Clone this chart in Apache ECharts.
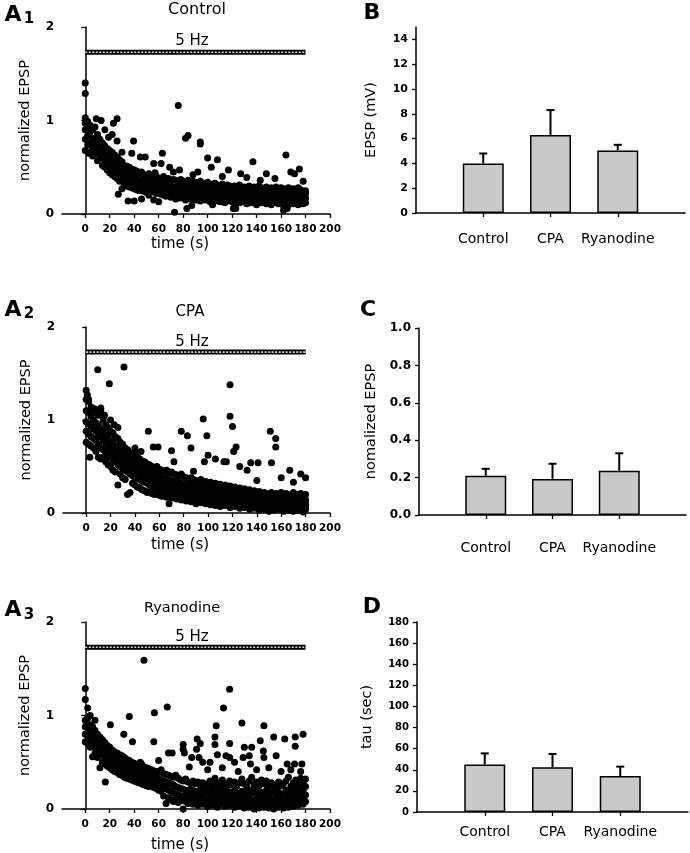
<!DOCTYPE html>
<html>
<head>
<meta charset="utf-8">
<script src="https://cdn.jsdelivr.net/npm/echarts@6/dist/echarts.min.js"></script>
<style>
  html, body { margin: 0; padding: 0; background: #fff; }
  #main { width: 690px; height: 853px; }
</style>
</head>
<body>
<div id="main"></div>
<script>
// ---- data ----
const timeTicks = [0, 20, 40, 60, 80, 100, 120, 140, 160, 180, 200];
const stimSpan = [0, 180];
const stimLevel = 1.73;

// rows: [time (s), normalized EPSP values at that time ...]
const controlRows = [
  [0, 0.68, 0.8, 0.9, 0.97, 1.03], [2, 0.74, 0.84, 0.92, 0.99], [4, 0.65, 0.76, 0.88, 0.95],
  [6, 0.62, 0.72, 0.81, 0.9], [8, 0.66, 0.7, 0.79, 0.93], [10, 0.57, 0.65, 0.74, 0.85],
  [12, 0.6, 0.63, 0.71, 0.8], [14, 0.52, 0.61, 0.68, 0.76], [16, 0.5, 0.57, 0.66, 0.73],
  [18, 0.47, 0.56, 0.62, 0.7], [20, 0.44, 0.53, 0.6, 0.68], [22, 0.42, 0.49, 0.58, 0.66],
  [24, 0.4, 0.47, 0.55, 0.63], [26, 0.38, 0.46, 0.52, 0.61], [28, 0.35, 0.43, 0.5, 0.58],
  [30, 0.27, 0.4, 0.47, 0.56], [32, 0.33, 0.38, 0.45, 0.52], [34, 0.3, 0.37, 0.44, 0.51],
  [36, 0.29, 0.35, 0.42, 0.5], [38, 0.28, 0.34, 0.4, 0.48], [40, 0.27, 0.33, 0.41, 0.47],
  [42, 0.26, 0.32, 0.38, 0.46], [44, 0.25, 0.31, 0.37, 0.44], [46, 0.27, 0.3, 0.36, 0.45],
  [48, 0.24, 0.3, 0.35, 0.42], [50, 0.23, 0.29, 0.36, 0.41], [52, 0.2, 0.28, 0.34, 0.43],
  [54, 0.24, 0.29, 0.33, 0.4], [56, 0.15, 0.27, 0.32, 0.39], [58, 0.22, 0.26, 0.33, 0.41],
  [60, 0.13, 0.26, 0.31, 0.38], [62, 0.21, 0.25, 0.3, 0.37], [64, 0.2, 0.27, 0.31, 0.4],
  [66, 0.19, 0.24, 0.3, 0.36], [68, 0.21, 0.25, 0.29, 0.38], [70, 0.18, 0.23, 0.3, 0.35],
  [72, 0.2, 0.26, 0.28, 0.37], [74, 0.16, 0.24, 0.29, 0.36], [76, 0.19, 0.23, 0.31, 0.34],
  [78, 0.17, 0.22, 0.28, 0.37], [80, 0.18, 0.25, 0.3, 0.35], [82, 0.15, 0.21, 0.27, 0.34],
  [84, 0.19, 0.24, 0.29, 0.36], [86, 0.16, 0.22, 0.28, 0.33], [88, 0.17, 0.23, 0.27, 0.35],
  [90, 0.15, 0.21, 0.29, 0.34], [92, 0.18, 0.22, 0.26, 0.32], [94, 0.14, 0.2, 0.27, 0.35],
  [96, 0.16, 0.23, 0.28, 0.33], [98, 0.15, 0.21, 0.26, 0.31], [100, 0.17, 0.22, 0.27, 0.34],
  [102, 0.13, 0.2, 0.25, 0.32], [104, 0.16, 0.21, 0.28, 0.3], [106, 0.14, 0.19, 0.25, 0.33],
  [108, 0.15, 0.22, 0.26, 0.31], [110, 0.13, 0.2, 0.24, 0.3], [112, 0.16, 0.19, 0.27, 0.32],
  [114, 0.12, 0.21, 0.25, 0.29], [116, 0.14, 0.18, 0.23, 0.31], [118, 0.15, 0.2, 0.26, 0.3],
  [120, 0.13, 0.19, 0.24, 0.28], [122, 0.11, 0.18, 0.22, 0.3], [124, 0.14, 0.2, 0.25, 0.29],
  [126, 0.12, 0.17, 0.23, 0.31], [128, 0.15, 0.19, 0.24, 0.28], [130, 0.13, 0.18, 0.22, 0.29],
  [132, 0.11, 0.2, 0.25, 0.27], [134, 0.14, 0.17, 0.23, 0.3], [136, 0.12, 0.19, 0.21, 0.28],
  [138, 0.13, 0.18, 0.24, 0.29], [140, 0.1, 0.17, 0.22, 0.27], [142, 0.14, 0.19, 0.23, 0.3],
  [144, 0.12, 0.16, 0.21, 0.28], [146, 0.13, 0.18, 0.24, 0.27], [148, 0.11, 0.17, 0.22, 0.29],
  [150, 0.14, 0.19, 0.23, 0.26], [152, 0.1, 0.16, 0.21, 0.28], [154, 0.13, 0.18, 0.24, 0.27],
  [156, 0.12, 0.17, 0.2, 0.29], [158, 0.11, 0.15, 0.22, 0.26], [160, 0.13, 0.18, 0.23, 0.28],
  [162, 0.09, 0.16, 0.21, 0.27], [164, 0.12, 0.17, 0.22, 0.25], [166, 0.1, 0.15, 0.2, 0.28],
  [168, 0.13, 0.18, 0.23, 0.26], [170, 0.11, 0.16, 0.21, 0.27], [172, 0.12, 0.17, 0.2, 0.25],
  [174, 0.1, 0.15, 0.22, 0.28], [176, 0.13, 0.18, 0.21, 0.26], [178, 0.11, 0.16, 0.2, 0.24],
  [180, 0.12, 0.17, 0.22, 0.25]
];
const controlOutliers = [
  [0, 1.4], [0, 1.29], [76, 1.16], [82, 0.81], [84, 0.84], [94, 0.77], [94, 0.75], [26, 1.02],
  [9, 1.02], [13, 1.0], [23, 0.97], [22, 0.85], [26, 0.78], [39.5, 0.78], [38, 0.65], [45, 0.61],
  [49, 0.61], [56, 0.54], [63, 0.65], [62, 0.54], [69, 0.5], [77, 0.47], [100, 0.6], [103, 0.5],
  [108, 0.58], [117, 0.47], [127, 0.43], [137, 0.56], [148, 0.43], [164, 0.63], [175, 0.48],
  [168, 0.45], [171, 0.43], [73, 0.02], [83, 0.06], [121, 0.06], [123, 0.06], [87, 0.09],
  [162, 0.04], [165, 0.06], [35, 0.14], [27, 0.21], [40, 0.14], [46, 0.16], [104, 0.1],
  [3, 0.65], [5, 0.67], [16, 0.9], [19, 0.82], [30, 0.66], [57, 0.44], [88, 0.42], [112, 0.4],
  [132, 0.39], [155, 0.38], [143, 0.36], [178, 0.35], [92, 0.45], [72, 0.45]
];

const cpaRows = [
  [0, 0.76, 0.88, 0.98, 1.1, 1.22], [2, 0.74, 0.85, 0.96, 1.08, 1.2], [4, 0.72, 0.82, 0.93, 1.04, 1.14],
  [6, 0.7, 0.8, 0.9, 1.0, 1.1], [8, 0.66, 0.78, 0.88, 0.97, 1.08], [10, 0.6, 0.74, 0.85, 0.95, 1.05],
  [12, 0.58, 0.7, 0.82, 0.9, 1.1], [14, 0.6, 0.68, 0.78, 0.88, 1.0], [16, 0.55, 0.65, 0.75, 0.84, 0.95],
  [18, 0.52, 0.62, 0.72, 0.82, 0.92], [20, 0.5, 0.6, 0.69, 0.78, 0.88], [22, 0.46, 0.57, 0.66, 0.75, 0.86],
  [24, 0.44, 0.55, 0.63, 0.72, 0.82], [26, 0.3, 0.52, 0.61, 0.7, 0.8], [28, 0.42, 0.5, 0.58, 0.67, 0.76],
  [30, 0.38, 0.48, 0.56, 0.65, 0.74], [32, 0.36, 0.46, 0.54, 0.62, 0.7], [34, 0.2, 0.44, 0.52, 0.6, 0.68],
  [36, 0.22, 0.42, 0.5, 0.58, 0.65], [38, 0.32, 0.4, 0.48, 0.56, 0.63], [40, 0.3, 0.38, 0.46, 0.54, 0.66],
  [42, 0.28, 0.37, 0.45, 0.52, 0.6], [44, 0.27, 0.36, 0.43, 0.5, 0.58], [46, 0.25, 0.34, 0.42, 0.49, 0.56],
  [48, 0.24, 0.33, 0.4, 0.47, 0.55], [50, 0.22, 0.32, 0.39, 0.46, 0.53], [52, 0.23, 0.3, 0.38, 0.44, 0.52],
  [54, 0.21, 0.29, 0.36, 0.43, 0.5], [56, 0.2, 0.28, 0.35, 0.42, 0.49], [58, 0.22, 0.27, 0.34, 0.41, 0.5],
  [60, 0.19, 0.26, 0.33, 0.4, 0.47], [62, 0.18, 0.26, 0.32, 0.39, 0.46], [64, 0.2, 0.25, 0.31, 0.38, 0.45],
  [66, 0.17, 0.24, 0.3, 0.37, 0.46], [68, 0.1, 0.23, 0.3, 0.36, 0.43], [70, 0.16, 0.22, 0.29, 0.35, 0.44],
  [72, 0.18, 0.23, 0.28, 0.34, 0.42], [74, 0.15, 0.21, 0.27, 0.35, 0.41], [76, 0.16, 0.2, 0.27, 0.33, 0.4],
  [78, 0.14, 0.21, 0.26, 0.32, 0.42], [80, 0.15, 0.2, 0.25, 0.31, 0.39], [82, 0.13, 0.19, 0.25, 0.3, 0.38],
  [84, 0.14, 0.2, 0.24, 0.31, 0.37], [86, 0.12, 0.18, 0.23, 0.29, 0.38], [88, 0.13, 0.19, 0.24, 0.3, 0.36],
  [90, 0.1, 0.17, 0.22, 0.28, 0.35], [92, 0.12, 0.18, 0.23, 0.29, 0.34], [94, 0.11, 0.16, 0.22, 0.27, 0.36],
  [96, 0.13, 0.17, 0.21, 0.28, 0.33], [98, 0.1, 0.15, 0.2, 0.26, 0.34], [100, 0.12, 0.16, 0.21, 0.27, 0.32],
  [102, 0.09, 0.15, 0.2, 0.25, 0.33], [104, 0.11, 0.16, 0.19, 0.26, 0.31], [106, 0.08, 0.14, 0.2, 0.24, 0.32],
  [108, 0.1, 0.15, 0.19, 0.25, 0.3], [110, 0.07, 0.13, 0.18, 0.24, 0.31], [112, 0.09, 0.14, 0.19, 0.23, 0.29],
  [114, 0.08, 0.12, 0.17, 0.24, 0.3], [116, 0.1, 0.15, 0.18, 0.22, 0.28], [118, 0.06, 0.12, 0.17, 0.23, 0.29],
  [120, 0.08, 0.13, 0.16, 0.21, 0.27], [122, 0.07, 0.11, 0.17, 0.22, 0.28], [124, 0.09, 0.13, 0.15, 0.2, 0.26],
  [126, 0.05, 0.1, 0.16, 0.21, 0.27], [128, 0.07, 0.12, 0.15, 0.2, 0.25], [130, 0.06, 0.1, 0.14, 0.19, 0.26],
  [132, 0.08, 0.11, 0.16, 0.2, 0.24], [134, 0.04, 0.09, 0.14, 0.19, 0.25], [136, 0.06, 0.11, 0.15, 0.18, 0.23],
  [138, 0.05, 0.1, 0.13, 0.19, 0.24], [140, 0.07, 0.09, 0.14, 0.17, 0.22], [142, 0.03, 0.08, 0.12, 0.18, 0.23],
  [144, 0.05, 0.1, 0.13, 0.17, 0.21], [146, 0.04, 0.08, 0.12, 0.16, 0.22], [148, 0.06, 0.09, 0.14, 0.18, 0.2],
  [150, 0.02, 0.07, 0.11, 0.16, 0.21], [152, 0.05, 0.09, 0.13, 0.17, 0.22], [154, 0.03, 0.08, 0.12, 0.15, 0.2],
  [156, 0.06, 0.1, 0.11, 0.16, 0.21], [158, 0.04, 0.07, 0.12, 0.17, 0.19], [160, 0.05, 0.09, 0.13, 0.15, 0.22],
  [162, 0.02, 0.08, 0.11, 0.16, 0.2], [164, 0.04, 0.07, 0.12, 0.14, 0.21], [166, 0.03, 0.09, 0.1, 0.15, 0.19],
  [168, 0.05, 0.08, 0.13, 0.16, 0.2], [170, 0.02, 0.06, 0.11, 0.14, 0.22], [172, 0.04, 0.08, 0.12, 0.15, 0.19],
  [174, 0.03, 0.07, 0.1, 0.16, 0.2], [176, 0.05, 0.09, 0.12, 0.14, 0.21], [178, 0.01, 0.06, 0.11, 0.15, 0.18],
  [180, 0.04, 0.08, 0.1, 0.14, 0.2]
];
const cpaOutliers = [
  [9.5, 1.54], [31, 1.57], [19, 1.39], [51, 0.88], [55, 0.71], [59, 0.71], [78, 0.88], [83, 0.83],
  [96, 1.01], [99, 0.83], [86, 0.7], [70, 0.67], [118, 1.38], [118, 1.04], [120, 0.93], [123, 0.71],
  [121, 0.66], [100, 0.62], [106, 0.58], [97, 0.55], [113, 0.55], [115, 0.55], [135, 0.54], [141, 0.54],
  [126, 0.5], [132, 0.46], [151, 0.88], [155.5, 0.8], [155.5, 0.71], [152, 0.54], [167, 0.46],
  [176, 0.42], [180, 0.38], [88, 0.45], [72, 0.55], [0, 1.32], [1, 1.27], [2, 1.22], [7, 1.12],
  [12, 1.13], [15, 1.05], [20, 1.0], [23, 0.95], [26, 0.92], [17, 0.6], [3, 0.6], [45, 0.66],
  [60, 0.45], [40, 0.7], [140, 0.35], [160, 0.38], [170, 0.33]
];

const ryanRows = [
  [0, 0.72, 0.8, 0.88, 0.95], [2, 0.7, 0.78, 0.86, 0.97], [4, 0.66, 0.74, 0.82, 0.9],
  [6, 0.56, 0.7, 0.78, 0.88], [8, 0.6, 0.66, 0.74, 0.84], [10, 0.55, 0.63, 0.71, 0.8],
  [12, 0.44, 0.6, 0.68, 0.77], [14, 0.5, 0.58, 0.65, 0.74], [16, 0.48, 0.55, 0.62, 0.71],
  [18, 0.46, 0.53, 0.6, 0.68], [20, 0.44, 0.51, 0.58, 0.66], [22, 0.42, 0.49, 0.56, 0.63],
  [24, 0.4, 0.47, 0.54, 0.61], [26, 0.39, 0.46, 0.52, 0.6], [28, 0.37, 0.44, 0.5, 0.58],
  [30, 0.36, 0.42, 0.49, 0.57], [32, 0.34, 0.41, 0.47, 0.55], [34, 0.33, 0.4, 0.46, 0.53],
  [36, 0.32, 0.38, 0.45, 0.52], [38, 0.31, 0.37, 0.43, 0.5], [40, 0.3, 0.36, 0.42, 0.49],
  [42, 0.29, 0.35, 0.41, 0.47], [44, 0.28, 0.34, 0.4, 0.46], [46, 0.27, 0.33, 0.39, 0.48],
  [48, 0.26, 0.32, 0.38, 0.45], [50, 0.25, 0.31, 0.37, 0.44], [52, 0.24, 0.3, 0.36, 0.43],
  [54, 0.25, 0.29, 0.35, 0.42], [56, 0.23, 0.28, 0.34, 0.41], [58, 0.22, 0.28, 0.33, 0.4],
  [60, 0.2, 0.27, 0.32, 0.39], [62, 0.19, 0.26, 0.31, 0.42], [64, 0.14, 0.25, 0.3, 0.38],
  [66, 0.06, 0.22, 0.29, 0.37], [68, 0.12, 0.2, 0.28, 0.36], [70, 0.1, 0.19, 0.27, 0.35],
  [72, 0.08, 0.17, 0.26, 0.34], [74, 0.11, 0.16, 0.24, 0.36], [76, 0.07, 0.15, 0.23, 0.33],
  [78, 0.09, 0.14, 0.22, 0.31], [80, 0.0, 0.13, 0.21, 0.3], [82, 0.08, 0.15, 0.2, 0.32],
  [84, 0.06, 0.12, 0.19, 0.29], [86, 0.09, 0.14, 0.21, 0.28], [88, 0.05, 0.13, 0.2, 0.3],
  [90, 0.07, 0.12, 0.18, 0.27], [92, 0.04, 0.11, 0.19, 0.29], [94, 0.08, 0.13, 0.2, 0.26],
  [96, 0.05, 0.12, 0.17, 0.28], [98, 0.06, 0.1, 0.18, 0.25], [100, 0.03, 0.11, 0.19, 0.27],
  [102, 0.07, 0.13, 0.2, 0.3], [104, 0.04, 0.1, 0.17, 0.26], [106, 0.06, 0.12, 0.21, 0.33],
  [108, 0.02, 0.11, 0.18, 0.28], [110, 0.05, 0.09, 0.16, 0.25], [112, 0.07, 0.12, 0.2, 0.31],
  [114, 0.03, 0.1, 0.17, 0.27], [116, 0.06, 0.13, 0.19, 0.24], [118, 0.04, 0.09, 0.18, 0.3],
  [120, 0.05, 0.11, 0.16, 0.26], [122, 0.02, 0.1, 0.2, 0.29], [124, 0.06, 0.12, 0.17, 0.25],
  [126, 0.03, 0.08, 0.15, 0.28], [128, 0.05, 0.11, 0.19, 0.32], [130, 0.01, 0.09, 0.16, 0.27],
  [132, 0.04, 0.12, 0.18, 0.24], [134, 0.02, 0.08, 0.15, 0.3], [136, 0.05, 0.1, 0.2, 0.34],
  [138, 0.0, 0.07, 0.17, 0.26], [140, 0.03, 0.11, 0.19, 0.29], [142, 0.01, 0.08, 0.14, 0.25],
  [144, 0.04, 0.1, 0.18, 0.31], [146, 0.02, 0.07, 0.16, 0.27], [148, 0.05, 0.12, 0.2, 0.3],
  [150, 0.01, 0.09, 0.15, 0.24], [152, 0.03, 0.08, 0.17, 0.28], [154, 0.0, 0.1, 0.19, 0.26],
  [156, 0.04, 0.07, 0.14, 0.23], [158, 0.02, 0.09, 0.18, 0.29], [160, 0.03, 0.11, 0.16, 0.25],
  [162, 0.01, 0.06, 0.13, 0.27], [164, 0.04, 0.1, 0.2, 0.3], [166, 0.02, 0.08, 0.15, 0.34],
  [168, 0.05, 0.12, 0.18, 0.24], [170, 0.03, 0.09, 0.17, 0.28], [172, 0.06, 0.13, 0.21, 0.31],
  [174, 0.04, 0.11, 0.19, 0.26], [176, 0.07, 0.14, 0.22, 0.33], [178, 0.05, 0.12, 0.2, 0.29],
  [180, 0.08, 0.15, 0.24, 0.32]
];
const ryanOutliers = [
  [0, 1.29], [0, 1.17], [2, 1.08], [48, 1.59], [56.5, 1.03], [67, 1.09], [36, 0.99], [20.5, 0.9],
  [31.5, 0.8], [38.6, 0.72], [56, 0.72], [16.4, 0.29], [113, 1.08], [118, 1.28], [128, 0.92],
  [146, 0.89], [107, 0.89], [154, 0.77], [163, 0.75], [171.6, 0.77], [178, 0.8], [171.6, 0.67],
  [91.4, 0.75], [106, 0.77], [80, 0.69], [80, 0.64], [81, 0.6], [94, 0.7], [91, 0.64], [106, 0.69],
  [118, 0.7], [130, 0.66], [136, 0.66], [143, 0.73], [145.5, 0.62], [129, 0.55], [134, 0.57],
  [146, 0.55], [156, 0.57], [165, 0.48], [171, 0.48], [177, 0.48], [68, 0.6], [71, 0.6], [93, 0.55],
  [96, 0.5], [87, 0.55], [108, 0.58], [115, 0.57], [118, 0.55], [4, 1.0], [8, 0.95], [1, 0.94],
  [12, 0.7], [25, 0.55], [45, 0.5], [60, 0.52], [85, 0.45], [100, 0.42], [112, 0.44], [125, 0.4],
  [140, 0.42], [150, 0.44], [160, 0.4], [168, 0.42], [176, 0.4], [135, 0.48], [122, 0.5], [102, 0.5]
];

// bar panels: mean and upward SEM
const groups = ['Control', 'CPA', 'Ryanodine'];
const groupPos = [1, 2, 3];
const epspMean = [4.0, 6.3, 5.05];
const epspErr = [0.8, 2.0, 0.45];
const normMean = [0.21, 0.193, 0.237];
const normErr = [0.037, 0.081, 0.093];
const tauMean = [45, 42.5, 34];
const tauErr = [10.5, 12.5, 9];
const epspTicks = [0, 2, 4, 6, 8, 10, 12, 14];

// ---- chart ----
const FONT = 'DejaVu Sans';
const chart = echarts.init(document.getElementById('main'), null, { renderer: 'canvas' });

function rowsToPoints(rows) {
  const pts = [];
  rows.forEach(r => {
    for (let i = 1; i < r.length; i++) pts.push([r[0], r[i]]);
  });
  return pts;
}

const scatterGrids = [
  { left: 62, top: 27, width: 268, height: 187 },
  { left: 63, top: 327, width: 267, height: 186 },
  { left: 62, top: 622, width: 268, height: 187 }
];
const barGrids = [
  { left: 416, top: 27, width: 269, height: 186 },
  { left: 419, top: 328, width: 267, height: 187 },
  { left: 417, top: 622, width: 271, height: 190 }
];
const grids = scatterGrids.concat(barGrids).map(g =>
  Object.assign({ containLabel: false, outerBoundsMode: 'none' }, g));

const axisLineStyle = { color: '#000', width: 1.5 };
const tickStyle = { color: '#000', width: 1.3 };

function timeAxis(gi) {
  return {
    gridIndex: gi, type: 'value', min: -19, max: 200,
    axisLine: { show: true, onZero: false, lineStyle: axisLineStyle },
    axisTick: { show: true, length: 4, customValues: timeTicks, lineStyle: tickStyle },
    axisLabel: {
      customValues: timeTicks, color: '#000', fontFamily: FONT, fontWeight: 'bold',
      fontSize: 10.5, margin: 10, hideOverlap: false, showMaxLabel: true
    },
    splitLine: { show: false }
  };
}
function normAxis(gi, name) {
  return {
    gridIndex: gi, type: 'value', min: 0, max: 2, interval: 1,
    axisLine: { show: true, lineStyle: axisLineStyle },
    axisTick: { show: true, length: 4, lineStyle: tickStyle },
    axisLabel: { color: '#000', fontFamily: FONT, fontWeight: 'bold', fontSize: 12, margin: 8 },
    splitLine: { show: false },
    name: name, nameLocation: 'middle', nameRotate: 90, nameGap: 29,
    nameTextStyle: { color: '#000', fontFamily: FONT, fontSize: 14.5 }
  };
}
function groupAxis(gi, margin) {
  return {
    gridIndex: gi, type: 'value', min: 0, max: 4,
    axisLine: { show: true, onZero: false, lineStyle: axisLineStyle },
    axisTick: { show: true, length: 4, customValues: groupPos, lineStyle: tickStyle },
    axisLabel: {
      customValues: groupPos, color: '#000', fontFamily: FONT, fontSize: 14, margin: margin,
      formatter: v => groups[v - 1]
    },
    splitLine: { show: false }
  };
}
function barValueAxis(gi, opts, name, gap, fs) {
  return Object.assign({
    gridIndex: gi, type: 'value',
    axisLine: { show: true, lineStyle: axisLineStyle },
    axisTick: { show: true, length: 4, lineStyle: tickStyle },
    splitLine: { show: false },
    name: name, nameLocation: 'middle', nameRotate: 90, nameGap: gap,
    nameTextStyle: { color: '#000', fontFamily: FONT, fontSize: 14.5 }
  }, opts, {
    axisLabel: Object.assign({ color: '#000', fontFamily: FONT, fontWeight: 'bold', fontSize: fs, margin: 8 }, opts.axisLabel || {})
  });
}

const xAxes = [timeAxis(0), timeAxis(1), timeAxis(2), groupAxis(3, 19), groupAxis(4, 26), groupAxis(5, 13)];
const yAxes = [
  normAxis(0, 'normalized EPSP'),
  normAxis(1, 'normalized EPSP'),
  normAxis(2, 'normalized EPSP'),
  barValueAxis(3, {
    min: 0, max: 15,
    axisTick: { show: true, length: 4, customValues: epspTicks, lineStyle: tickStyle },
    axisLabel: { customValues: epspTicks }
  }, 'EPSP (mV)', 37, 11),
  barValueAxis(4, {
    min: 0, max: 1, interval: 0.2,
    axisLabel: { formatter: v => v.toFixed(1) }
  }, 'nomalized EPSP', 40, 12),
  barValueAxis(5, { min: 0, max: 180, interval: 20 }, 'tau (sec)', 42, 10)
];

const series = [];
[[controlRows, controlOutliers], [cpaRows, cpaOutliers], [ryanRows, ryanOutliers]].forEach((d, i) => {
  series.push({
    type: 'scatter', xAxisIndex: i, yAxisIndex: i, silent: true,
    symbol: 'circle', symbolSize: 7, itemStyle: { color: '#000', opacity: 1 },
    data: rowsToPoints(d[0]).concat(d[1])
  });
  const stim = stimSpan.map(t => [t, stimLevel]);
  series.push({
    type: 'line', xAxisIndex: i, yAxisIndex: i, silent: true, symbol: 'none',
    lineStyle: { color: '#000', width: 5, cap: 'butt' }, data: stim, z: 3
  });
  series.push({
    type: 'line', xAxisIndex: i, yAxisIndex: i, silent: true, symbol: 'none',
    lineStyle: { color: '#d8d8d8', width: 1.6, type: [2, 1.5], cap: 'butt' }, data: stim, z: 4
  });
});

[[epspMean, epspErr], [normMean, normErr], [tauMean, tauErr]].forEach((d, i) => {
  const ai = i + 3;
  series.push({
    type: 'bar', xAxisIndex: ai, yAxisIndex: ai, silent: true, barWidth: 41,
    itemStyle: { color: '#c9c9c9', borderColor: '#000', borderWidth: 1.5 },
    data: groupPos.map((p, k) => [p, d[0][k]])
  });
  series.push({
    type: 'custom', xAxisIndex: ai, yAxisIndex: ai, silent: true, z: 5,
    data: groupPos.map((p, k) => [p, d[0][k], d[1][k]]),
    renderItem: (params, api) => {
      const x = api.value(0), m = api.value(1), e = api.value(2);
      const p0 = api.coord([x, m]);
      const p1 = api.coord([x, m + e]);
      const st = { stroke: '#000', lineWidth: 2 };
      return {
        type: 'group',
        children: [
          { type: 'line', shape: { x1: p0[0], y1: p0[1], x2: p1[0], y2: p1[1] }, style: st },
          { type: 'line', shape: { x1: p1[0] - 4, y1: p1[1], x2: p1[0] + 4, y2: p1[1] }, style: st }
        ]
      };
    }
  });
});

function txt(x, y, text, size, weight) {
  return {
    type: 'text', x: x, y: y, silent: true,
    style: {
      text: text, fill: '#000', textAlign: 'center', textVerticalAlign: 'middle',
      font: (weight || 'normal') + ' ' + size + 'px "' + FONT + '"'
    }
  };
}

const graphics = [
  // panel letters
  txt(13, 15, 'A', 22, 'bold'), txt(29, 19, '1', 15, 'bold'),
  txt(13, 310, 'A', 22, 'bold'), txt(29, 314, '2', 15, 'bold'),
  txt(13, 610, 'A', 22, 'bold'), txt(29, 615, '3', 15, 'bold'),
  txt(372, 13, 'B', 22, 'bold'),
  txt(368, 310, 'C', 22, 'bold'),
  txt(372, 607, 'D', 22, 'bold'),
  // scatter titles
  txt(197, 10, 'Control', 16), txt(190, 312, 'CPA', 15), txt(182, 608, 'Ryanodine', 14.5),
  // stimulus labels
  txt(192, 41, '5 Hz', 15), txt(192, 342, '5 Hz', 15), txt(192, 637, '5 Hz', 15),
  // x-axis titles
  txt(180, 244, 'time (s)', 15), txt(180, 545, 'time (s)', 15), txt(180, 845, 'time (s)', 15)
];

chart.setOption({
  backgroundColor: '#fff',
  animation: false,
  grid: grids,
  xAxis: xAxes,
  yAxis: yAxes,
  series: series,
  graphic: graphics
});
</script>
</body>
</html>
